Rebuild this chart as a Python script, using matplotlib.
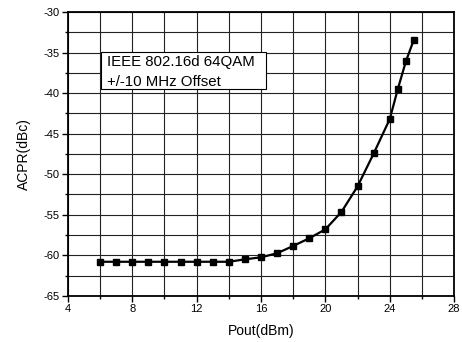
import matplotlib
matplotlib.use('Agg')
import matplotlib.pyplot as plt
from matplotlib.patches import Rectangle
from matplotlib.ticker import MultipleLocator

plt.rcParams['font.family'] = ['Liberation Sans', 'DejaVu Sans']
plt.rcParams['axes.unicode_minus'] = False

# Dados
pout_dbm = [6, 7, 8, 9, 10, 11, 12, 13, 14, 15, 16, 17, 18, 19, 20,
            21, 22, 23, 24, 24.5, 25, 25.5]
acpr_dbc = [-60.8, -60.8, -60.8, -60.8, -60.8, -60.8, -60.8, -60.8, -60.8,
            -60.5, -60.25, -59.75, -58.85, -57.9, -56.8,
            -54.65, -51.5, -47.45, -43.2, -39.5, -36.1, -33.4]

legend_lines = ['IEEE 802.16d 64QAM', '+/-10 MHz Offset']

fig = plt.figure(figsize=(4.62, 3.42), dpi=100)
ax = fig.add_axes([0.147, 0.135, 0.836, 0.830])

ax.plot(pout_dbm, acpr_dbc, color='black', linewidth=1.6, marker='s',
        markersize=4.8, markerfacecolor='black', markeredgecolor='black')

ax.set_xlim(4, 28)
ax.set_ylim(-65, -30)
ax.xaxis.set_major_locator(MultipleLocator(4))
ax.xaxis.set_minor_locator(MultipleLocator(2))
ax.yaxis.set_major_locator(MultipleLocator(5))
ax.yaxis.set_minor_locator(MultipleLocator(2.5))

ax.grid(True, which='both', color='#222222', linewidth=0.8)
ax.set_axisbelow(True)
for s in ax.spines.values():
    s.set_linewidth(1.3)

ax.tick_params(which='major', direction='out', length=4, width=1, labelsize=8, pad=2)
ax.tick_params(which='minor', direction='out', length=2.5, width=1)

ax.set_xlabel('Pout(dBm)', fontsize=10, labelpad=7)
ax.set_ylabel('ACPR(dBc)', fontsize=10, labelpad=9)

# caixa de legenda
ax.add_patch(Rectangle((0.0855, 0.728), 0.4275, 0.130, transform=ax.transAxes,
                       facecolor='white', edgecolor='black', linewidth=0.8,
                       zorder=5))
ax.text(0.101, 0.825, legend_lines[0], transform=ax.transAxes, fontsize=10.8,
        va='center', ha='left', zorder=6)
ax.text(0.101, 0.755, legend_lines[1], transform=ax.transAxes, fontsize=10.8,
        va='center', ha='left', zorder=6)

plt.savefig('out.png', dpi=100)
